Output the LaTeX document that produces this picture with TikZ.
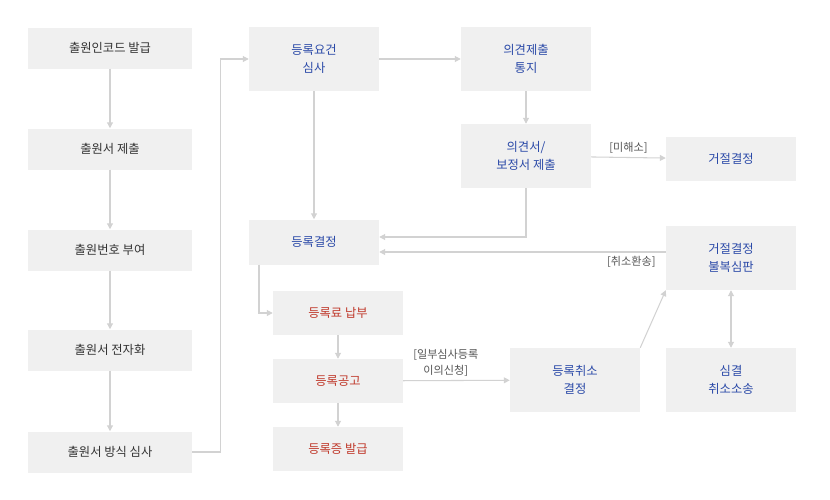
\documentclass[tikz,border=0pt]{standalone}
\usepackage{fontspec}
\setmainfont{Noto Sans CJK KR}
\usetikzlibrary{arrows.meta}
\definecolor{boxgray}{HTML}{F0F0F0}
\definecolor{linegray}{HTML}{D2D2D2}
\definecolor{txtdark}{HTML}{333333}
\definecolor{txtblue}{HTML}{2B4AA8}
\definecolor{txtred}{HTML}{C0392B}
\definecolor{lblgray}{HTML}{555555}
\begin{document}
\begin{tikzpicture}[x=0.03cm,y=-0.03cm,
  box/.style={fill=boxgray,draw=none,minimum width=3.9cm,minimum height=1.92cm,align=center,font=\fontsize{10.5}{15}\selectfont},
  lbox/.style={box,minimum width=4.92cm,minimum height=1.23cm,text=txtdark},
  bbox/.style={box,text=txtblue},
  rbox/.style={box,minimum height=1.32cm,text=txtred},
  conn/.style={draw=linegray,line width=0.9pt,-{Triangle[length=5pt,width=5pt]}},
  lbl/.style={text=lblgray,font=\fontsize{9.5}{13}\selectfont,align=center}]
\useasboundingbox (0,0) rectangle (830,500);
% left column
\node[lbox] (a1) at (110,48) {출원인코드 발급};
\node[lbox] (a2) at (110,149) {출원서 제출};
\node[lbox] (a3) at (110,250) {출원번호 부여};
\node[lbox] (a4) at (110,350) {출원서 전자화};
\node[lbox] (a5) at (110,452) {출원서 방식 심사};
% right part
\node[bbox] (req) at (314,59) {등록요건\\심사};
\node[bbox] (notice) at (526,59) {의견제출\\통지};
\node[bbox] (resp) at (526,156) {의견서/\\보정서 제출};
\node[bbox,minimum height=1.32cm] (reject) at (731,159) {거절결정};
\node[bbox,minimum height=1.35cm] (grant) at (314,242) {등록결정};
\node[bbox] (appeal) at (731,258) {거절결정\\불복심판};
\node[rbox] (fee) at (338,313) {등록료 납부};
\node[rbox] (pub) at (338,381) {등록공고};
\node[rbox] (cert) at (338,449) {등록증 발급};
\node[bbox] (cancel) at (575,380) {등록취소\\결정};
\node[bbox] (suit) at (731,380) {심결\\취소소송};
% connectors
\foreach \i/\j in {a1/a2,a2/a3,a3/a4,a4/a5}
  \draw[conn] (\i) -- (\j);
\draw[conn] (a5.east) -- ++(28,0) |- (req.west);
\draw[conn] (req) -- (notice);
\draw[conn] (req) -- (grant);
\draw[conn] (notice) -- (resp);
\draw[conn] (resp) -- node[lbl,above] {[미해소]} (reject);
\draw[conn] (resp.south) |- (grant.east |- 0,237);
\draw[conn] (appeal.west |- 0,252) -- node[lbl,below,pos=0.12] {[취소환송]} (grant.east |- 0,252);
\draw[conn] ([xshift=-1.65cm]grant.south) |- (fee.west);
\draw[conn] (fee) -- (pub);
\draw[conn] (pub) -- (cert);
\draw[conn] (pub) -- node[lbl,above,pos=0.4] {[일부심사등록\\이의신청]} (cancel);
\draw[conn] (cancel.north east) -- (appeal.south west);
\draw[conn,{Triangle[length=5pt,width=5pt]}-{Triangle[length=5pt,width=5pt]}] (appeal) -- (suit);
\end{tikzpicture}
\end{document}
